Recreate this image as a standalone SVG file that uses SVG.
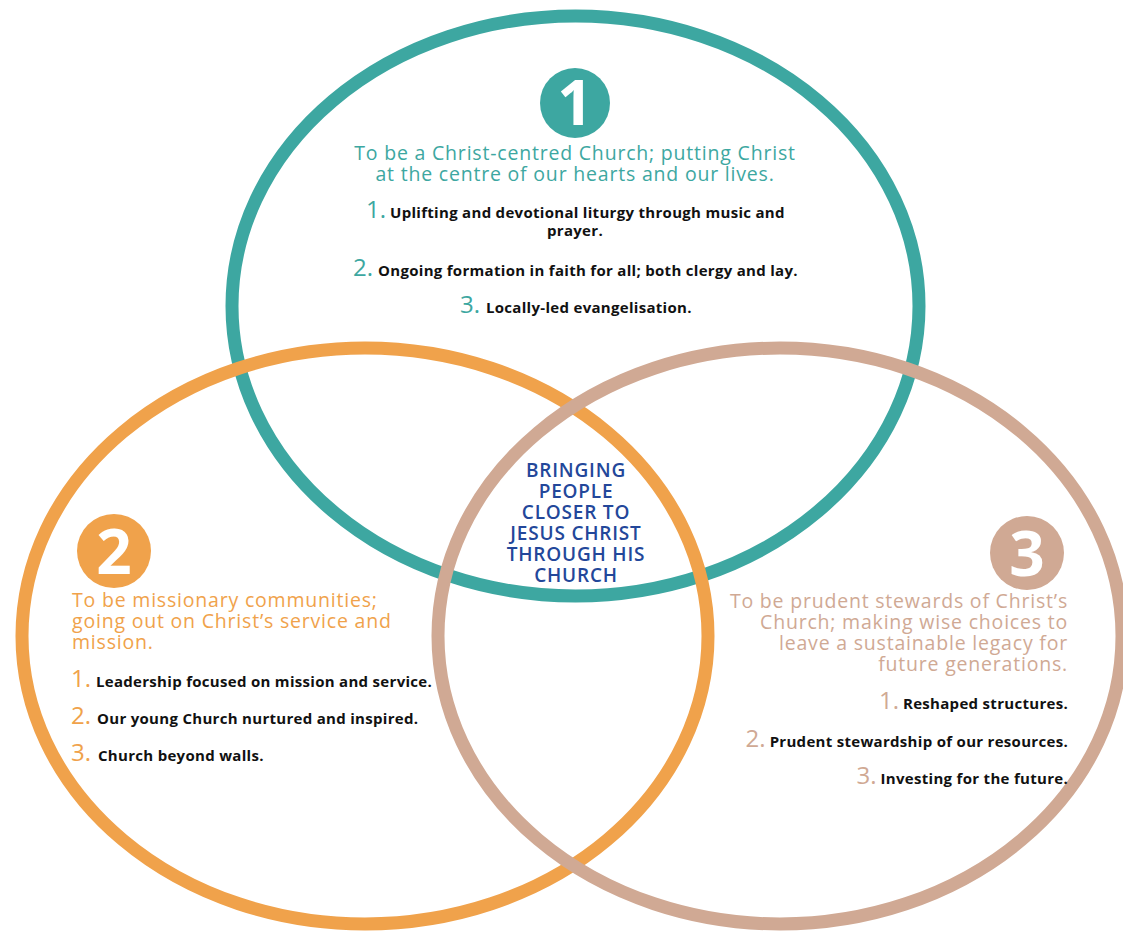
<svg xmlns="http://www.w3.org/2000/svg" width="1123" height="932" viewBox="0 0 1123 932">
<style>
.ring{fill:none;stroke-width:13}
.t{font-family:"Open Sans","Liberation Sans",sans-serif}
.title{font-size:19.5px;font-weight:400;letter-spacing:0.8px}
.item{font-size:15px;font-weight:700;fill:#111;letter-spacing:0.3px}
.num{font-size:24px;font-weight:400;letter-spacing:0}
.badge{font-size:62px;font-weight:700;fill:#fff;text-anchor:middle}
.center{font-size:19px;font-weight:600;fill:#23479a;text-anchor:middle;letter-spacing:0.8px}
.teal{fill:#3da7a1}
.orange{fill:#f0a24b}
.tan{fill:#d0a994}
</style>
<rect width="1123" height="932" fill="#fff"/>
<g id="rings">
<ellipse id="ring1" class="ring" cx="575.5" cy="306" rx="343.5" ry="290" stroke="#3da7a1"/>
<ellipse id="ring2" class="ring" cx="365" cy="636" rx="343" ry="288" stroke="#f0a24b"/>
<ellipse id="ring3" class="ring" cx="780" cy="636" rx="342" ry="288" stroke="#d0a994"/>
</g>
<g id="node1" class="t">
<circle cx="575" cy="103" r="35" class="teal"/>
<text x="575" y="125" class="badge t">1</text>
<text x="575" y="160" class="title teal" text-anchor="middle">To be a Christ-centred Church; putting Christ</text>
<text x="575" y="181" class="title teal" text-anchor="middle">at the centre of our hearts and our lives.</text>
<text x="366" y="218" class="num teal">1.</text>
<text x="390" y="218" class="item">Uplifting and devotional liturgy through music and</text>
<text x="575" y="236" class="item" text-anchor="middle">prayer.</text>
<text x="353" y="276" class="num teal">2.</text>
<text x="378" y="276" class="item">Ongoing formation in faith for all; both clergy and lay.</text>
<text x="460" y="313" class="num teal">3.</text>
<text x="486" y="313" class="item">Locally-led evangelisation.</text>
</g>
<g id="node2" class="t">
<circle cx="114" cy="551" r="37" class="orange"/>
<text x="114" y="574" class="badge t">2</text>
<text x="72" y="607" class="title orange">To be missionary communities;</text>
<text x="72" y="628" class="title orange">going out on Christ’s service and</text>
<text x="72" y="649" class="title orange">mission.</text>
<text x="71" y="687" class="num orange">1.</text>
<text x="96" y="687" class="item">Leadership focused on mission and service.</text>
<text x="71" y="724" class="num orange">2.</text>
<text x="97" y="724" class="item">Our young Church nurtured and inspired.</text>
<text x="71" y="761" class="num orange">3.</text>
<text x="98" y="761" class="item">Church beyond walls.</text>
</g>
<g id="node3" class="t">
<circle cx="1027" cy="553" r="37" class="tan"/>
<text x="1027" y="576" class="badge t">3</text>
<text x="1068" y="608" class="title tan" text-anchor="end">To be prudent stewards of Christ’s</text>
<text x="1068" y="629" class="title tan" text-anchor="end">Church; making wise choices to</text>
<text x="1068" y="650" class="title tan" text-anchor="end">leave a sustainable legacy for</text>
<text x="1068" y="671" class="title tan" text-anchor="end">future generations.</text>
<text x="1068" y="709" text-anchor="end"><tspan class="num tan">1.</tspan><tspan class="item" dx="4">Reshaped structures.</tspan></text>
<text x="1068" y="747" text-anchor="end"><tspan class="num tan">2.</tspan><tspan class="item" dx="4">Prudent stewardship of our resources.</tspan></text>
<text x="1068" y="784" text-anchor="end"><tspan class="num tan">3.</tspan><tspan class="item" dx="4">Investing for the future.</tspan></text>
</g>
<g id="centre" class="t">
<text x="576" y="477" class="center">BRINGING</text>
<text x="576" y="498" class="center">PEOPLE</text>
<text x="576" y="519" class="center">CLOSER TO</text>
<text x="576" y="540" class="center">JESUS CHRIST</text>
<text x="576" y="561" class="center">THROUGH HIS</text>
<text x="576" y="582" class="center">CHURCH</text>
</g>
</svg>
